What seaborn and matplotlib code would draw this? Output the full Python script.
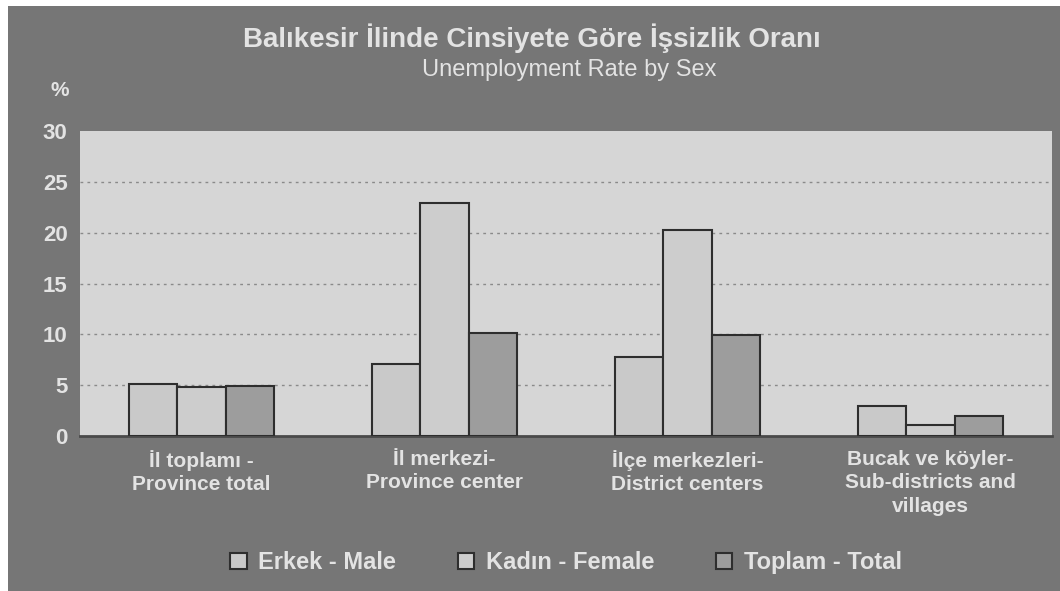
import pandas as pd
import matplotlib.pyplot as plt
import seaborn as sns
from matplotlib.patches import Rectangle

# Data
categories = ["İl toplamı -\nProvince total", "İl merkezi-\nProvince center",
              "İlçe merkezleri-\nDistrict centers", "Bucak ve köyler-\nSub-districts and\nvillages"]
series = ["Erkek - Male", "Kadın - Female", "Toplam - Total"]
male = [5.1, 7.1, 7.8, 3.0]
female = [4.8, 22.9, 20.3, 1.1]
total = [4.9, 10.1, 9.9, 2.0]

df = pd.DataFrame({
    "cat": categories * 3,
    "series": [series[0]] * 4 + [series[1]] * 4 + [series[2]] * 4,
    "value": male + female + total,
})

sns.set_style("white")
plt.rcParams["font.family"] = ["Liberation Sans", "DejaVu Sans"]

bg = "#767676"
txt = "#e3e3e3"
fig = plt.figure(figsize=(10.6, 5.91), dpi=100, facecolor=bg)
# small white margins at top and left, as on the scan
fig.patches.append(Rectangle((0, 1 - 6 / 591), 1, 6 / 591, transform=fig.transFigure,
                             facecolor="white", edgecolor="none"))
fig.patches.append(Rectangle((0, 0), 8 / 1060, 1, transform=fig.transFigure,
                             facecolor="white", edgecolor="none"))

ax = fig.add_axes([80 / 1060, 1 - 436 / 591, 972 / 1060, 305 / 591])
ax.set_facecolor("#d6d6d6")

palette = {series[0]: "#c9c9c9", series[1]: "#cdcdcd", series[2]: "#9d9d9d"}
sns.barplot(data=df, x="cat", y="value", hue="series", palette=palette,
            width=0.6, edgecolor="#2e2e2e", linewidth=1.5, saturation=1,
            ax=ax, zorder=3)

ax.set_ylim(0, 30)
ax.set_yticks(range(0, 31, 5))
ax.set_xlim(-0.5, 3.5)
for y in range(5, 30, 5):
    ax.axhline(y, color="#8a8a8a", linestyle=(0, (2, 3)), linewidth=1, zorder=1)

for s in ["top", "right", "left"]:
    ax.spines[s].set_visible(False)
ax.spines["bottom"].set_color("#4a4a4a")
ax.spines["bottom"].set_linewidth(2)

ax.tick_params(axis="y", length=5, color="#cccccc", colors=txt, labelsize=16, pad=4)
ax.tick_params(axis="x", length=0, colors=txt, labelsize=15, pad=10)
for lbl in ax.get_yticklabels():
    lbl.set_fontweight("bold")
for lbl in ax.get_xticklabels():
    lbl.set_fontweight("bold")
    lbl.set_linespacing(1.3)
ax.set_xlabel("")
ax.set_ylabel("")

fig.text(60 / 1060, 1 - 90 / 591, "%", color=txt, fontsize=15, fontweight="bold",
         ha="center", va="center")
fig.text(532 / 1060, 1 - 38 / 591, "Balıkesir İlinde Cinsiyete Göre İşsizlik Oranı",
         color=txt, fontsize=20, fontweight="bold", ha="center", va="center")
fig.text(569 / 1060, 1 - 70 / 591, "Unemployment Rate by Sex",
         color=txt, fontsize=17, ha="center", va="center")

leg = ax.legend(loc="center", bbox_to_anchor=(0.5, -0.415), ncol=3, frameon=False,
                fontsize=17, handlelength=0.7, handleheight=0.7, columnspacing=2.6,
                handletextpad=0.5)
for t in leg.get_texts():
    t.set_color(txt)
    t.set_fontweight("bold")

fig.savefig("out.png", dpi=100, facecolor=fig.get_facecolor())
